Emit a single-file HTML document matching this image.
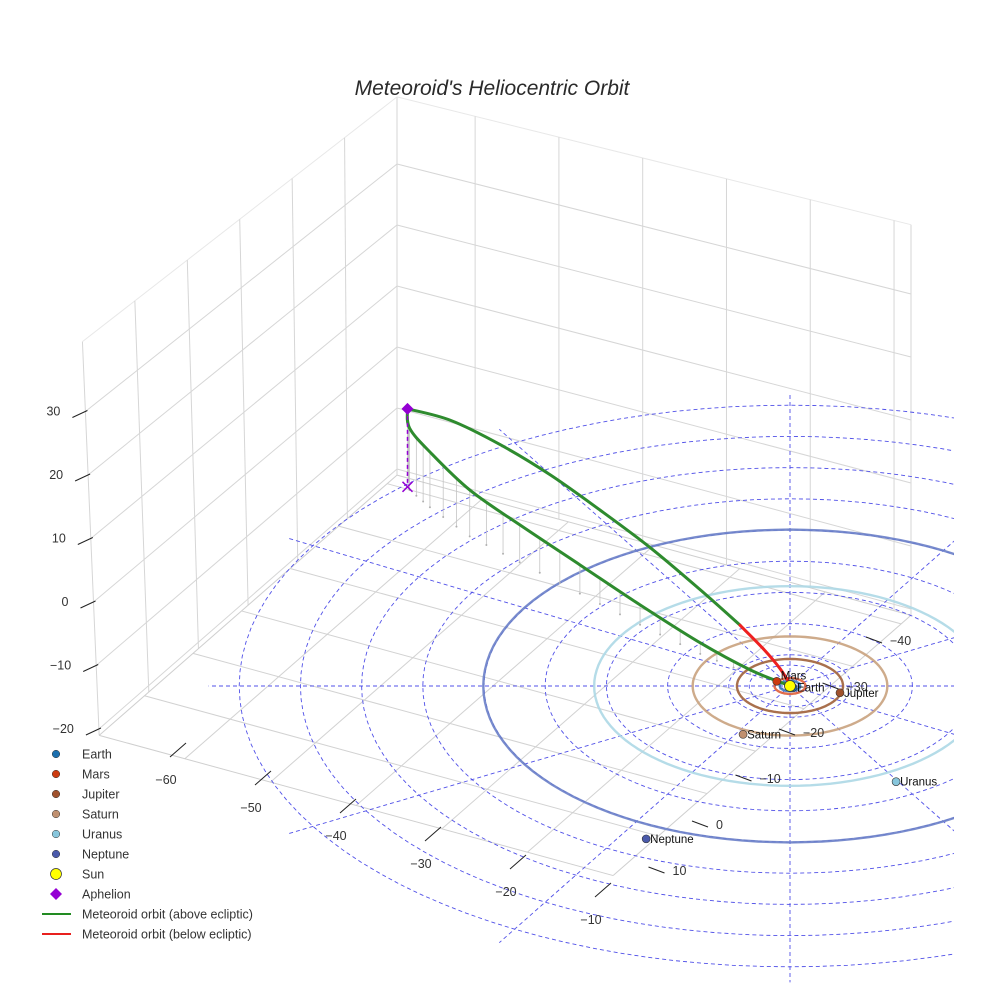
<!DOCTYPE html>
<html><head><meta charset="utf-8"><style>
body{margin:0;background:#fff}
svg text{font-family:"Liberation Sans",sans-serif}
</style></head><body>
<svg id="c" width="984" height="984" viewBox="0 0 984 984">
<text x="492" y="95" text-anchor="middle" font-size="21" font-style="italic" fill="#2a2a2a">Meteoroid's Heliocentric Orbit</text>
<defs><clipPath id="clip"><rect x="0" y="395" width="954" height="589"/></clipPath></defs>
<g id="walls"></g>
<g id="ecl" clip-path="url(#clip)"></g>
<g id="orb" clip-path="url(#clip)"></g>
<g id="drops"></g>
<g id="met"></g>
<g id="pl"></g>
<g id="ticks"></g>
<g id="leg"></g>
</svg>
<script>
// ---- data ----
const zTicks=[30,20,10,0,-10,-20];
const xTickLabels=[-60,-50,-40,-30,-20,-10];
const yTickLabels=[-40,-30,-20,-10,0,10];
const ringRadii=[4,6,12,18,24,30,36,42,48,54];
const radialAngles=[0,30,60,90,120,150,180,210,240,270,300,330];
const planetNames=["Earth","Mars","Jupiter","Saturn","Uranus","Neptune"];
const planetOrbitR=[1.0,1.52,5.2,9.54,19.2,30.07];
const planetX=[0.3,-1.3,4.9,-4.6,10.4,-14.1];
const planetY=[-0.3,0.9,-1.3,-9.3,-18.4,-29.4];
const planetColors=["#1b6fae","#cc3b10","#a0522d","#c09070","#87c6dc","#4a5aaa"];
const orbitColors=["#3a7ab8","#e0603a","#a0603a","#c9a27e","#add8e6","#6a7fc8"];
const upperX=[-37.5,-33.3,-28.4,-23.5,-18.6,-13.7,-8.8,-4.9];
const upperY=[38.3,36.6,32.9,28.6,23.3,18.1,12.0,7.2];
const upperZ=[30,29,27,24,21,17,13,9];
const belowX=[-4.9,-2.5,-1.0,0];
const belowY=[7.2,4.4,2.4,0.4];
const belowZ=[9,5,2,0];
const lowerX=[-37.5,-37.3,-35.3,-31.4,-26.5,-20.6,-14.7,-8.8,-3.9,-0.5];
const lowerY=[38.3,35.6,32.5,27.2,22.5,16.8,11.1,5.8,2.1,0.4];
const lowerZ=[30,28,25,21,17,13,9,5,2,0];
const aphelion=[-37.5,38.3,30];
// ---- projection ----
const CX=790,CY=686,KX=10.2,KY=5.2,KZ=2.6;
function px(x){return CX+KX*x}
function py(y,z){return CY-KY*y-KZ*z}
const NS="http://www.w3.org/2000/svg";
function mk(tag,attrs,parent){const e=document.createElementNS(NS,tag);for(const k in attrs)e.setAttribute(k,attrs[k]);parent.appendChild(e);return e}
const G=id=>document.getElementById(id);
function ringPts(r){const a=[];for(let k=0;k<=120;k++){const t=k/120*2*Math.PI;a.push(px(r*Math.cos(t)).toFixed(1)+','+py(r*Math.sin(t),0).toFixed(1));}return a.join(' ');}
// ---- box walls ----
const walls=G('walls');
function lerp(a,b,t){return [a[0]+(b[0]-a[0])*t,a[1]+(b[1]-a[1])*t]}
const leftE=z=>[93.5-0.27*z,602-6.35*z], backE=z=>[397,347-6.1*z], rightE=z=>[911,483-6.3*z];
const ZT=41,ZB=-21;
const L=leftE(ZB),B=backE(ZB),R=rightE(ZB),F=[R[0]-(B[0]-L[0]),R[1]-(B[1]-L[1])];
function line(a,b,s,w,p,name){const e=mk('line',{x1:a[0],y1:a[1],x2:b[0],y2:b[1],stroke:s,'stroke-width':w},p);return e}
[leftE,backE,rightE].forEach(f=>line(f(ZT),f(ZB),'#d6d6d6',1,walls,'wall-edge'));
line(leftE(ZT),backE(ZT),'#e8e8e8',1,walls,'wall-edge');line(backE(ZT),rightE(ZT),'#e8e8e8',1,walls,'wall-edge');
[30,20,10,0,-10,-20].forEach(z=>{line(leftE(z),backE(z),'#d6d6d6',1,walls,'z-grid-line');line(backE(z),rightE(z),'#d6d6d6',1,walls,'z-grid-line');});
for(let i=1;i<6;i++){const t=i/6;line(lerp(leftE(ZT),backE(ZT),t),lerp(L,B,t),'#d6d6d6',1,walls,'grid-line');line(lerp(B,R,t),lerp(L,F,t),'#d2d2d2',1,walls,'floor-grid-line');}
for(let i=0;i<6;i++){const t=0.152+0.163*i;line(lerp(backE(ZT),rightE(ZT),t),lerp(B,R,t),'#d6d6d6',1,walls,'grid-line');line(lerp(L,B,t),lerp(F,R,t),'#d2d2d2',1,walls,'floor-grid-line');}
line(L,B,'#cfcfcf',1,walls,'floor-edge');line(B,R,'#cfcfcf',1,walls,'floor-edge');line(L,F,'#cfcfcf',1,walls,'floor-edge');line(F,R,'#cfcfcf',1,walls,'floor-edge');
// ---- ecliptic grid ----
const ecl=G('ecl');
ringRadii.forEach(r=>{const e=mk('polyline',{points:ringPts(r),fill:'none',stroke:'#5050e8','stroke-width':0.9,'stroke-dasharray':'4,3'},ecl);
});
radialAngles.forEach(a=>{const t=a*Math.PI/180,R0=57;const e=mk('line',{x1:px(0),y1:py(0,0),x2:px(R0*Math.cos(t)),y2:py(R0*Math.sin(t),0),stroke:'#5050e8','stroke-width':0.9,'stroke-dasharray':'4,3'},ecl);
});
// ---- planet orbits ----
const orb=G('orb');
planetOrbitR.forEach((r,i)=>{const e=mk('polyline',{points:ringPts(r),fill:'none',stroke:orbitColors[i],'stroke-width':2.4,opacity:0.9},orb);
});
// ---- drop lines ----
const drops=G('drops');
function dropsFor(X,Y,Z,n){for(let i=0;i<X.length-1;i++)for(let k=0;k<n;k++){const t=k/n;const x=X[i]+(X[i+1]-X[i])*t,y=Y[i]+(Y[i+1]-Y[i])*t,z=Z[i]+(Z[i+1]-Z[i])*t;
const e=mk('line',{x1:px(x),y1:py(y,z),x2:px(x),y2:py(y,z*0.15),stroke:'#c4c4c4','stroke-width':0.8},drops);

const d=mk('circle',{cx:px(x),cy:py(y,z*0.15),r:1,fill:'#b0b0b0'},drops);
}}
dropsFor(lowerX,lowerY,lowerZ,3);
// ---- meteoroid ----
const met=G('met');
function smooth(P){let d=`M${P[0][0]},${P[0][1]}`;for(let i=0;i<P.length-1;i++){const p0=P[Math.max(i-1,0)],p1=P[i],p2=P[i+1],p3=P[Math.min(i+2,P.length-1)];
d+=` C${p1[0]+(p2[0]-p0[0])/6},${p1[1]+(p2[1]-p0[1])/6} ${p2[0]-(p3[0]-p1[0])/6},${p2[1]-(p3[1]-p1[1])/6} ${p2[0]},${p2[1]}`;}return d;}
function curve(X,Y,Z,col,name){const P=X.map((x,i)=>[px(x),py(Y[i],Z[i])]);
const e=mk('path',{d:smooth(P),fill:'none',stroke:col,'stroke-width':3,'stroke-linecap':'round'},met);
}
curve(upperX,upperY,upperZ,'#2e8b2e','orbit-above-upper');
curve(lowerX,lowerY,lowerZ,'#2e8b2e','orbit-above-lower');
curve(belowX,belowY,belowZ,'#ee2020','orbit-below');
const ax=px(aphelion[0]),ayT=py(aphelion[1],aphelion[2]),ayB=py(aphelion[1],0);
const ad=mk('line',{x1:ax,y1:ayT,x2:ax,y2:ayB,stroke:'#9400d3','stroke-width':1.5,'stroke-dasharray':'4,3'},met);

const ap=mk('path',{d:`M${ax},${ayT-6}L${ax+6},${ayT}L${ax},${ayT+6}L${ax-6},${ayT}Z`,fill:'#9400d3'},met);

const ax2=mk('path',{d:`M${ax-5},${ayB-5}L${ax+5},${ayB+5}M${ax+5},${ayB-5}L${ax-5},${ayB+5}`,stroke:'#9400d3','stroke-width':1.5},met);

// ---- planets ----
const pl=G('pl');
planetNames.forEach((n,i)=>{const c=mk('circle',{cx:px(planetX[i]),cy:py(planetY[i],0),r:4,fill:planetColors[i],stroke:'#333','stroke-width':0.6},pl);

const t=mk('text',{x:px(planetX[i])+4,y:py(planetY[i],0)+(n==='Mars'?-2:4),'font-size':11.5,fill:'#111'},pl);t.textContent=n;
});
const sun=mk('circle',{cx:px(0),cy:py(0,0),r:5.5,fill:'#ffff00',stroke:'#333','stroke-width':0.8},pl);

// ---- ticks ----
const tk=G('ticks');
function txt(x,y,s,anchor,name){const t=mk('text',{x:x,y:y,'font-size':12.5,fill:'#333','text-anchor':anchor},tk);t.textContent=s;}
zTicks.forEach(z=>{const p=leftE(z);line([p[0]-13,p[1]+6],[p[0]+2,p[1]-1],'#222',1,tk,'z-tick');txt(p[0]-25,p[1]+4,String(z).replace('-','\u2212'),'end','z-tick-label');});
xTickLabels.forEach((v,i)=>{const x0=178+85*i,y0=750+28*i;line([x0-8,y0+7],[x0+8,y0-7],'#222',1,tk,'x-tick');txt(x0-12,y0+34,String(v).replace('-','\u2212'),'middle','x-tick-label');});
yTickLabels.forEach((v,i)=>{const x0=890-43.5*i,y0=641+46*i;line([x0-24,y0-4],[x0-8,y0+2],'#222',1,tk,'y-tick');txt(x0,y0+4,String(v).replace('-','\u2212'),'start','y-tick-label');});
// ---- legend ----
const lg=G('leg');
const legNames=["Earth","Mars","Jupiter","Saturn","Uranus","Neptune","Sun","Aphelion","Meteoroid orbit (above ecliptic)","Meteoroid orbit (below ecliptic)"];
legNames.forEach((n,i)=>{const y=754+i*20;
if(i<6){const c=mk('circle',{cx:56,cy:y,r:3.8,fill:planetColors[i],stroke:'#333','stroke-width':0.5},lg);}
else if(i===6){const c=mk('circle',{cx:56,cy:y,r:5.5,fill:'#ffff00',stroke:'#333','stroke-width':0.7},lg);}
else if(i===7){const c=mk('path',{d:`M56,${y-6}L62,${y}L56,${y+6}L50,${y}Z`,fill:'#9400d3'},lg);}
else{line([42,y],[71,y],i===8?'#228b22':'#e8201e',2,lg,'legend-line');}
const t=mk('text',{x:82,y:y+4.5,'font-size':12.5,fill:'#333'},lg);t.textContent=n;
});
</script>
</body></html>
